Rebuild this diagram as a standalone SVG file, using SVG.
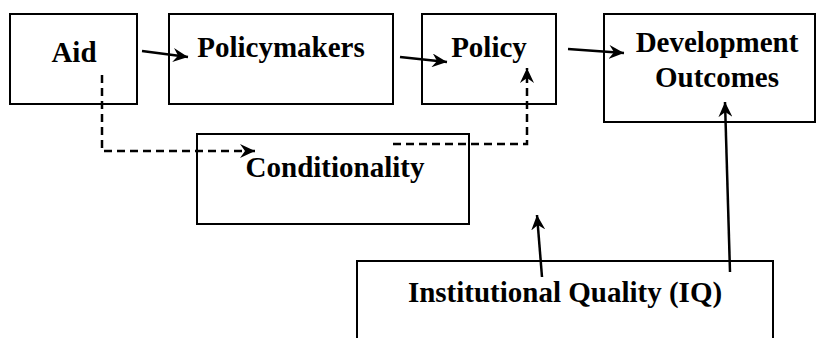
<svg xmlns="http://www.w3.org/2000/svg" width="816" height="338" viewBox="0 0 816 338">
<style>
.box{fill:#fff;stroke:#000;stroke-width:2}
.lbl{font-family:"Liberation Serif","Times New Roman",serif;font-weight:bold;font-size:29px;fill:#000;text-anchor:middle}
.solid{fill:none;stroke:#000;stroke-width:2.5}
.dash{fill:none;stroke:#000;stroke-width:2.5;stroke-dasharray:8 5}
</style>
<defs>
<marker id="ah" markerUnits="userSpaceOnUse" markerWidth="16" markerHeight="14" refX="15" refY="7" orient="auto" viewBox="0 0 16 14">
<path d="M0,0 L15,7 L0,14 L5,7 Z" fill="#000"/>
</marker>
</defs>
<rect width="816" height="338" fill="#fff"/>
<g id="aid"><rect class="box" x="10" y="14" width="127" height="90"/><text class="lbl" x="74" y="62">Aid</text></g>
<g id="policymakers"><rect class="box" x="169" y="14" width="224" height="90"/><text class="lbl" x="281" y="57">Policymakers</text></g>
<g id="policy"><rect class="box" x="422" y="14" width="134" height="90"/><text class="lbl" x="489" y="57">Policy</text></g>
<g id="outcomes"><rect class="box" x="604" y="14" width="211" height="108"/><text class="lbl" x="717" y="52">Development</text><text class="lbl" x="717" y="87">Outcomes</text></g>
<g id="conditionality"><rect class="box" x="197" y="134" width="272" height="90"/><text class="lbl" x="335" y="177">Conditionality</text></g>
<g id="iq"><rect class="box" x="357" y="261" width="416" height="90"/><text class="lbl" x="565" y="302">Institutional Quality (IQ)</text></g>
<g id="connectors">
<line class="solid" x1="142" y1="51" x2="188" y2="57" marker-end="url(#ah)"/>
<line class="solid" x1="400" y1="57" x2="447" y2="62" marker-end="url(#ah)"/>
<line class="solid" x1="568" y1="49" x2="624" y2="53" marker-end="url(#ah)"/>
<line class="solid" x1="730" y1="272" x2="725" y2="102" marker-end="url(#ah)"/>
<line class="solid" x1="542" y1="277" x2="537" y2="215" marker-end="url(#ah)"/>
<polyline class="dash" points="102,75 102,151 255,151" marker-end="url(#ah)"/>
<polyline class="dash" points="393,144 527,144 527,68" marker-end="url(#ah)"/>
</g>
</svg>
